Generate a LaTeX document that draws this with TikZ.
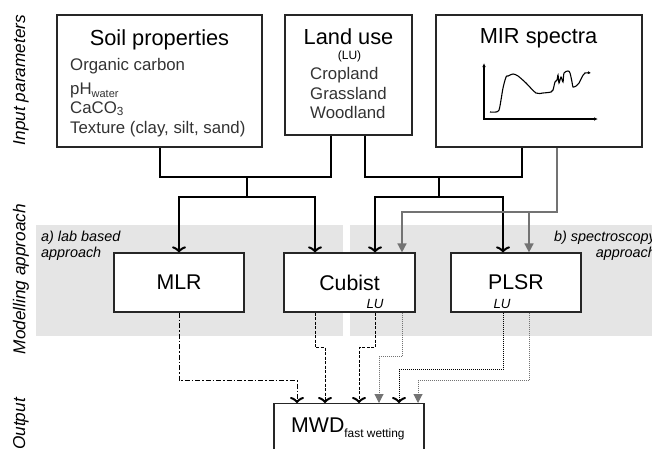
\documentclass[tikz,border=0pt]{standalone}
\usepackage{fontspec}
\setmainfont{Liberation Sans}
\usetikzlibrary{arrows.meta}

\tikzset{
  box/.style={draw=black!85, line width=1.2pt, fill=white, inner sep=0pt},
  heading/.style={font=\fontsize{21.8}{24}\selectfont, inner sep=0pt},
  model/.style={font=\fontsize{21.3}{24}\selectfont},
  item/.style={font=\fontsize{16.8}{19}\selectfont, text=black!80, inner sep=0pt},
  side/.style={font=\fontsize{17.2}{19}\selectfont\itshape, rotate=90, inner sep=0pt},
  note/.style={font=\fontsize{14.4}{16}\selectfont\itshape, inner sep=0pt},
  lutag/.style={font=\fontsize{13.3}{14}\selectfont\itshape, inner sep=0pt},
  panel/.style={fill=black!10},
  bus/.style={line width=2pt},
  vtip/.style={-{Classical TikZ Rightarrow[length=6pt,width=14pt,line width=2pt]}},
  feed/.style={bus, vtip},
  specfeed/.style={line width=1.6pt, draw=black!55, -{Triangle[length=9pt,width=9pt]}},
  labout/.style={vtip, line width=1pt, dash pattern=on 5pt off 2pt on 1.5pt off 2pt},
  cubout/.style={vtip, line width=1pt, dash pattern=on 3pt off 1.5pt},
  plsrout/.style={vtip, line width=1pt, dash pattern=on 1pt off 1pt},
  specout/.style={line width=1pt, draw=black!55, dash pattern=on 1pt off 1pt,
    -{Triangle[length=9pt,width=9pt]}}
}

\begin{document}
\begin{tikzpicture}[x=1pt,y=-1pt]
  \useasboundingbox (0,0) rectangle (652,448);
  \fill[panel] (36,225) rectangle (343,336);
  \fill[panel] (350,225) rectangle (652,336);

  \node[side] (inlabel) at (21,80) {Input parameters};
  \node[side] (modlabel) at (21,279) {Modelling approach};
  \node[side] (outlabel) at (21,424) {Output};

  \node[box, minimum width=205pt, minimum height=132pt] (soil) at (159.5,81) {};
  \node[box, minimum width=127pt, minimum height=120pt] (lu) at (348.5,75) {};
  \node[box, minimum width=206pt, minimum height=132pt] (mir) at (539,81) {};

  \node[heading, anchor=base] (soiltitle) at (159.5,45) {Soil properties};
  \node[item, anchor=base west] (oc) at (70,70.5) {Organic carbon};
  \node[item, anchor=base west] (ph) at (70,94) {pH\raisebox{-3.5pt}{\fontsize{11}{12}\selectfont water}};
  \node[item, anchor=base west] (caco) at (70,113) {CaCO\textsubscript{3}};
  \node[item, anchor=base west] (texture) at (70,133.5) {Texture (clay, silt, sand)};

  \node[heading, anchor=base] (lutitle) at (348.5,44) {Land use};
  \node[font=\fontsize{12}{13}\selectfont, inner sep=0pt, anchor=base] (luabbr) at (349.5,59.5) {(LU)};
  \node[item, anchor=base west] (crop) at (310,79) {Cropland};
  \node[item, anchor=base west] (grass) at (310,99) {Grassland};
  \node[item, anchor=base west] (wood) at (310,118) {Woodland};

  \node[heading, anchor=base] (mirtitle) at (538.5,43.5) {MIR spectra};
  \draw[line width=1.3pt, {Latex[length=4pt,width=3.5pt]}-{Latex[length=4pt,width=3.5pt]}]
    (484,63) -- (484,119) -- (598,119);
  \draw[line width=1.1pt, -{Latex[length=3pt,width=3pt]}] plot[smooth, tension=0.5] coordinates {
    (490,112) (496,112) (499,110) (501,100) (503,88) (506,77) (508,76) (513,74)
    (518,76) (526,83) (536,93) (543,93) (551,92) (553,90) (555,82) (557,80)
    (558,75) (559,83) (561,77) (563,82) (564,73) (568,71) (570,73) (572,82)
    (573,87) (576,86) (579,83) (582,77) (585,73) (591,73)};

  \node[note, anchor=north west, align=left] (labnote) at (41,231) {a) lab based\\approach};
  \node[note, anchor=north east, align=right] (specnote) at (656,231) {b) spectroscopy\\approach};

  \node[box, model, minimum width=130pt, minimum height=59pt] (mlr) at (179,282.5) {MLR};
  \node[box, model, minimum width=131pt, minimum height=59pt] (cubist) at (349.5,282.5) {Cubist};
  \node[box, model, minimum width=130pt, minimum height=59pt] (plsr) at (516,282.5) {PLSR};
  \node[lutag, anchor=base] (cubistlu) at (375,308) {LU};
  \node[lutag, anchor=base] (plsrlu) at (502,308) {LU};

  \node[box, minimum width=150pt, minimum height=50pt, anchor=north] (mwd) at (349,403) {};
  \node[model, inner sep=0pt, anchor=base west] (mwdtext) at (291,432)
    {MWD\raisebox{-5pt}{\fontsize{11.9}{13}\selectfont fast wetting}};

  \coordinate (soilbus) at (247,177);
  \coordinate (soilsplit) at (247,197);
  \coordinate (mirbus) at (439,177);
  \coordinate (mirsplit) at (439,197);
  \coordinate (spectap) at (529,212);

  \draw[bus] (soil.south) |- (soilbus) -| ([xshift=-17.5]lu.south);
  \draw[bus] (soilbus) -- (soilsplit);
  \draw[feed] (soilsplit) -| (mlr.north);
  \draw[feed] (soilsplit) -| ([xshift=-34.5]cubist.north);
  \draw[bus] ([xshift=16.5]lu.south) |- (mirbus) -| ([xshift=-17]mir.south);
  \draw[bus] (mirbus) -- (mirsplit);
  \draw[feed] (mirsplit) -| ([xshift=25.5]cubist.north);
  \draw[feed] (mirsplit) -| ([xshift=-13]plsr.north);
  \draw[specfeed] ([xshift=18]mir.south) |- (spectap) -| ([xshift=52.5]cubist.north);
  \draw[specfeed] (spectap) -- ([xshift=13]plsr.north);

  \draw[labout] (mlr.south) -- ++(0,68) -| ([xshift=-52]mwd.north);
  \draw[cubout] ([xshift=-34.5]cubist.south) -- ++(0,35) -| ([xshift=-24]mwd.north);
  \draw[cubout] ([xshift=25.5]cubist.south) -- ++(0,35) -| ([xshift=10]mwd.north);
  \draw[specout] ([xshift=52.5]cubist.south) -- ++(0,44) -| ([xshift=30]mwd.north);
  \draw[plsrout] ([xshift=-13]plsr.south) -- ++(0,57) -| ([xshift=50]mwd.north);
  \draw[specout] ([xshift=13]plsr.south) -- ++(0,68) -| ([xshift=69]mwd.north);
\end{tikzpicture}
\end{document}
